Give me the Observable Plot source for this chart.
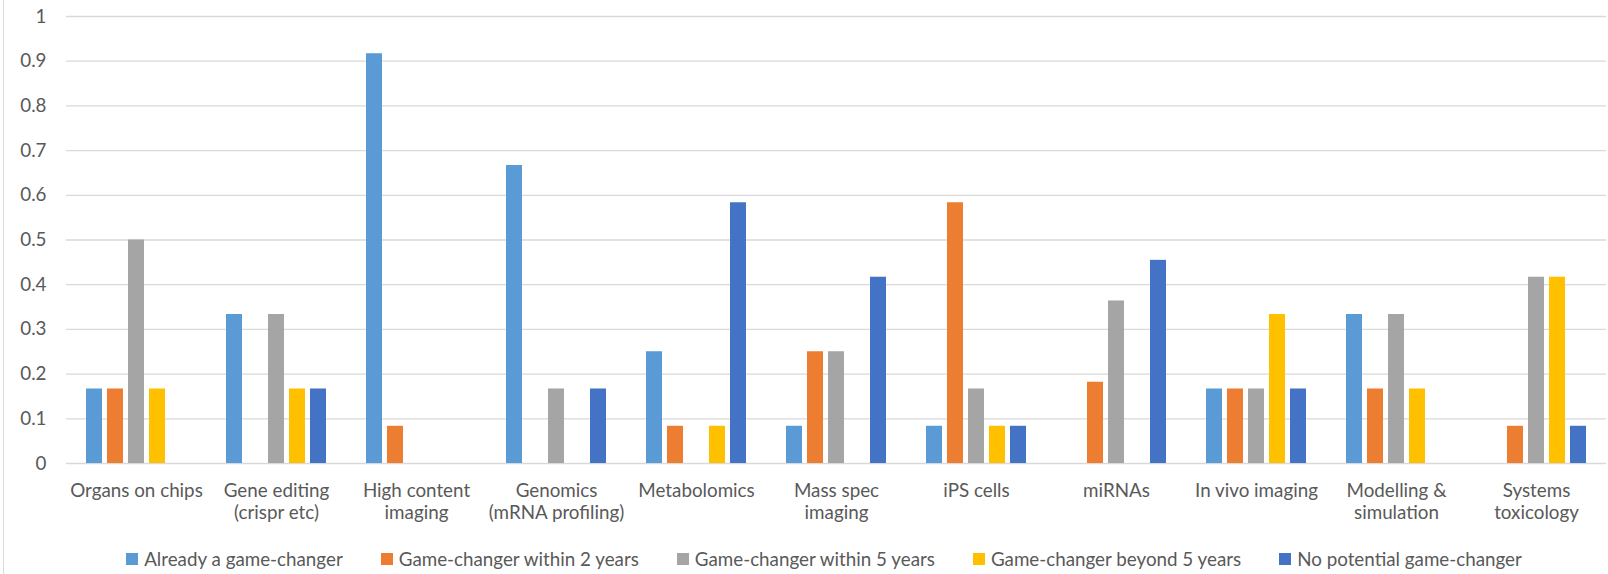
<!DOCTYPE html>
<html>
<head>
<meta charset="utf-8">
<script src="https://cdn.jsdelivr.net/npm/d3@7"></script>
<script src="https://cdn.jsdelivr.net/npm/@observablehq/plot@0.6"></script>
<style>
  html, body { margin: 0; padding: 0; background: #fff; }
  body { width: 1608px; height: 574px; overflow: hidden; position: relative; font-family: Lato, "Open Sans", sans-serif; }
  #chart svg { display: block; }
  #frame { position: absolute; left: 3px; top: 0; width: 1px; height: 574px; background: #d9d9d9; }
  #legend { position: absolute; left: 40px; right: 0; top: 547px; height: 24px; display: flex; justify-content: center; align-items: center; gap: 38px; color: #595959; font-size: 18.8px; line-height: 24px; }
  #legend .item { display: flex; align-items: center; white-space: nowrap; }
  #legend .sw { width: 12px; height: 12px; margin-right: 6px; }
</style>
</head>
<body>
<div id="chart"></div>
<div id="legend"></div>
<div id="frame"></div>
<script>
// Technologies surveyed
const categories = [
  "Organs on chips",
  "Gene editing\n(crispr etc)",
  "High content\nimaging",
  "Genomics\n(mRNA profiling)",
  "Metabolomics",
  "Mass spec\nimaging",
  "iPS cells",
  "miRNAs",
  "In vivo imaging",
  "Modelling &\nsimulation",
  "Systems\ntoxicology"
];

// Response categories and their colours
const seriesNames = [
  "Already a game-changer",
  "Game-changer within 2 years",
  "Game-changer within 5 years",
  "Game-changer beyond 5 years",
  "No potential game-changer"
];
const seriesColors = ["#5B9BD5", "#ED7D31", "#A5A5A5", "#FFC000", "#4472C4"];

// Share of respondents per technology, one array per response
const alreadyGameChanger = [0.1667, 0.3333, 0.9167, 0.6667, 0.25, 0.0833, 0.0833, 0, 0.1667, 0.3333, 0];
const within2Years       = [0.1667, 0, 0.0833, 0, 0.0833, 0.25, 0.5833, 0.1818, 0.1667, 0.1667, 0.0833];
const within5Years       = [0.5, 0.3333, 0, 0.1667, 0, 0.25, 0.1667, 0.3636, 0.1667, 0.3333, 0.4167];
const beyond5Years       = [0.1667, 0.1667, 0, 0, 0.0833, 0, 0.0833, 0, 0.3333, 0.1667, 0.4167];
const noPotential        = [0, 0.1667, 0, 0.1667, 0.5833, 0.4167, 0.0833, 0.4545, 0.1667, 0, 0.0833];

const yTicks = [0, 0.1, 0.2, 0.3, 0.4, 0.5, 0.6, 0.7, 0.8, 0.9, 1];

const seriesValues = [alreadyGameChanger, within2Years, within5Years, beyond5Years, noPotential];
const rows = [];
categories.forEach((c, i) => {
  seriesNames.forEach((s, j) => {
    const v = seriesValues[j][i];
    if (v > 0) rows.push({category: c, series: s, value: v});
  });
});

const textColor = "#595959";
const fontSize = 18.8;

const chart = Plot.plot({
  width: 1608,
  height: 535,
  marginLeft: 63,
  marginRight: 0,
  marginTop: 16,
  marginBottom: 72,
  style: {fontFamily: "Lato, 'Open Sans', sans-serif", fontSize: fontSize + "px", color: textColor, background: "#fff"},
  fx: {domain: categories, padding: 0, axis: null, label: null},
  x: {domain: seriesNames, paddingInner: 0.215, paddingOuter: 0.848, axis: null, label: null},
  y: {domain: [0, 1], axis: null, label: null},
  color: {domain: seriesNames, range: seriesColors},
  marks: [
    Plot.gridY(yTicks, {stroke: "#d9d9d9", strokeOpacity: 1, strokeWidth: 1.3}),
    Plot.barY(rows, {fx: "category", x: "series", y: "value", fill: "series"}),
    Plot.axisY({
      ticks: yTicks,
      tickSize: 0,
      tickPadding: 20,
      tickFormat: d => String(+d.toFixed(1)),
      fill: textColor,
      fontSize: fontSize,
      label: null,
      facetAnchor: "left"
    }),
    Plot.axisFx({
      anchor: "bottom",
      tickSize: 0,
      tickPadding: 17,
      lineHeight: 1.2,
      fill: textColor,
      fontSize: fontSize,
      label: null
    })
  ]
});
document.getElementById("chart").appendChild(chart);

// Legend below the chart
const legend = document.getElementById("legend");
seriesNames.forEach((s, j) => {
  const item = document.createElement("div");
  item.className = "item";
  const sw = document.createElement("span");
  sw.className = "sw";
  sw.style.background = seriesColors[j];
  const label = document.createElement("span");
  label.textContent = s;
  item.appendChild(sw);
  item.appendChild(label);
  legend.appendChild(item);
});
</script>
</body>
</html>
